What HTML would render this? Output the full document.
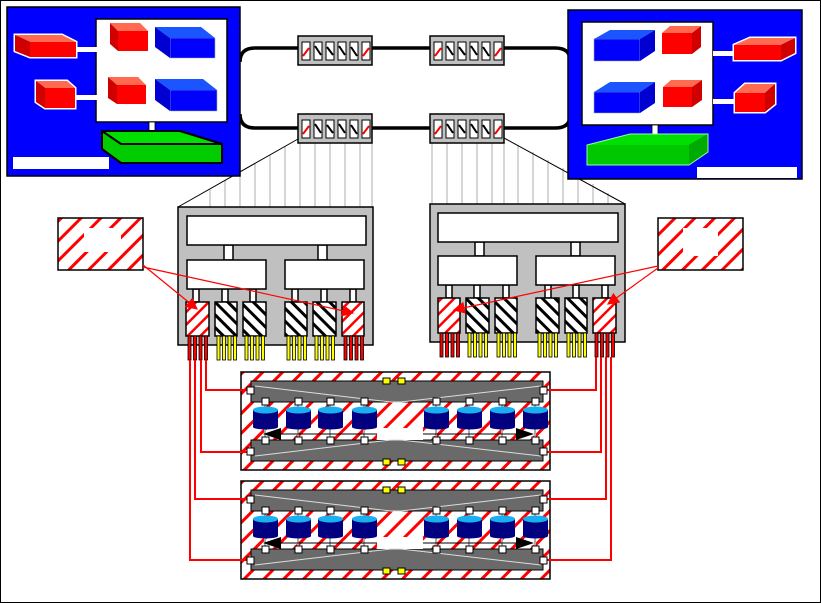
<!DOCTYPE html>
<html><head><meta charset="utf-8"><style>html,body{margin:0;padding:0;background:#fff}svg{display:block}</style></head>
<body>
<svg width="821" height="603" viewBox="0 0 821 603" xmlns="http://www.w3.org/2000/svg">
<defs>
<pattern id="rh" patternUnits="userSpaceOnUse" width="14" height="14" patternTransform="rotate(45)">
<rect width="14" height="14" fill="#fff"/><rect x="0" y="0" width="3" height="14" fill="#f00"/></pattern>
<pattern id="bh" patternUnits="userSpaceOnUse" width="9" height="9" patternTransform="rotate(-45)">
<rect width="9" height="9" fill="#fff"/><rect x="0" y="0" width="3" height="9" fill="#000"/></pattern>
<pattern id="rh2" patternUnits="userSpaceOnUse" width="9" height="9" patternTransform="rotate(45)">
<rect width="9" height="9" fill="#fff"/><rect x="0" y="0" width="2.5" height="9" fill="#f00"/></pattern>
<g id="sw">
<rect x="0" y="0" width="74" height="29" fill="#c0c0c0" stroke="#000" stroke-width="1.5"/>
<g stroke="#000" stroke-width="1" fill="#fff">
<rect x="4" y="6" width="8" height="18"/><rect x="16" y="6" width="8" height="18"/><rect x="28" y="6" width="8" height="18"/>
<rect x="40" y="6" width="8" height="18"/><rect x="52" y="6" width="8" height="18"/><rect x="64" y="6" width="8" height="18"/></g>
<g stroke-width="2"><line x1="5" y1="20" x2="11" y2="12" stroke="#f00"/><line x1="17" y1="10" x2="23" y2="19" stroke="#000"/><line x1="29" y1="11" x2="35" y2="19" stroke="#000"/><line x1="41" y1="10" x2="47" y2="19" stroke="#000"/><line x1="53" y1="11" x2="59" y2="20" stroke="#000"/><line x1="65" y1="20" x2="71" y2="12" stroke="#f00"/></g>
</g>
<g id="cyl">
<line x1="12" y1="-8" x2="12" y2="30" stroke="#aaa" stroke-width="2"/>
<rect x="0" y="3" width="25" height="17" fill="#000080"/>
<ellipse cx="12.5" cy="20" rx="12.5" ry="2.5" fill="#000080"/>
<ellipse cx="12.5" cy="3" rx="12.5" ry="3.5" fill="#1ab0f0"/>
</g>
<g id="st">
<rect x="0" y="0" width="309" height="98" fill="url(#rh)" stroke="#000" stroke-width="1.5"/>
<rect x="10" y="9" width="292" height="21" fill="#6a6a6a" stroke="#000"/>
<rect x="10" y="68" width="292" height="21" fill="#6a6a6a" stroke="#000"/>
<rect x="136" y="56" width="46" height="12" fill="#fff"/>
<polyline points="14,14 150,30 160,30 300,14" fill="none" stroke="#ddd" stroke-width="1"/>
<polyline points="14,84 150,68 160,68 300,84" fill="none" stroke="#ddd" stroke-width="1"/>
<use href="#cyl" x="12" y="35"/><use href="#cyl" x="45" y="35"/><use href="#cyl" x="77" y="35"/><use href="#cyl" x="111" y="35"/>
<use href="#cyl" x="183" y="35"/><use href="#cyl" x="216" y="35"/><use href="#cyl" x="249" y="35"/><use href="#cyl" x="282" y="35"/>
<line x1="40" y1="62" x2="136" y2="62" stroke="#000"/><line x1="182" y1="62" x2="275" y2="62" stroke="#000"/>
<polygon points="22,62 40,56 40,68" fill="#000"/><polygon points="293,62 275,56 275,68" fill="#000"/>
<g fill="#fff" stroke="#000" stroke-width="1">
<rect x="6" y="15" width="7" height="7"/><rect x="299" y="15" width="7" height="7"/>
<rect x="6" y="76" width="7" height="7"/><rect x="299" y="76" width="7" height="7"/>
<rect x="21" y="26" width="7" height="7"/><rect x="54" y="26" width="7" height="7"/><rect x="86" y="26" width="7" height="7"/><rect x="120" y="26" width="7" height="7"/>
<rect x="192" y="26" width="7" height="7"/><rect x="225" y="26" width="7" height="7"/><rect x="258" y="26" width="7" height="7"/><rect x="291" y="26" width="7" height="7"/>
<rect x="21" y="65" width="7" height="7"/><rect x="54" y="65" width="7" height="7"/><rect x="86" y="65" width="7" height="7"/><rect x="120" y="65" width="7" height="7"/>
<rect x="192" y="65" width="7" height="7"/><rect x="225" y="65" width="7" height="7"/><rect x="258" y="65" width="7" height="7"/><rect x="291" y="65" width="7" height="7"/>
</g>
<g fill="#ff0" stroke="#000" stroke-width="1">
<rect x="142" y="6" width="7" height="6"/><rect x="157" y="6" width="7" height="6"/>
<rect x="142" y="87" width="7" height="6"/><rect x="157" y="87" width="7" height="6"/></g>
</g>
<g id="pinsR"><g fill="#f00" stroke="#000" stroke-width="0.8"><rect x="0" y="0" width="3" height="24"/><rect x="5.5" y="0" width="3" height="24"/><rect x="11" y="0" width="3" height="24"/><rect x="16.5" y="0" width="3" height="24"/></g></g>
<g id="pinsY"><g fill="#ff0" stroke="#000" stroke-width="0.8"><rect x="0" y="0" width="3" height="24"/><rect x="5.5" y="0" width="3" height="24"/><rect x="11" y="0" width="3" height="24"/><rect x="16.5" y="0" width="3" height="24"/></g></g>
<marker id="ar" viewBox="0 0 10 10" refX="9" refY="5" markerWidth="18" markerHeight="12" markerUnits="userSpaceOnUse" orient="auto"><path d="M0,0 L10,5 L0,10 z" fill="#f00"/></marker>
</defs>

<rect x="0.5" y="0.5" width="820" height="602" fill="#fff" stroke="#000"/>

<!-- loop -->
<path d="M255,48 H555 Q570,48 570,60 M255,128 H555 Q570,128 570,116" fill="none" stroke="#000" stroke-width="3.5"/>
<path d="M255,48 Q240,48 240,62 M255,128 Q240,128 240,114" fill="none" stroke="#000" stroke-width="3.5"/>

<!-- fans -->
<g stroke="#c8c8c8" stroke-width="1.5">
<line x1="210" y1="190" x2="210" y2="207"/><line x1="225" y1="180" x2="225" y2="207"/><line x1="240" y1="172" x2="240" y2="207"/><line x1="255" y1="163" x2="255" y2="207"/><line x1="270" y1="155" x2="270" y2="207"/><line x1="285" y1="146" x2="285" y2="207"/>
<line x1="300" y1="143" x2="300" y2="207"/><line x1="315" y1="143" x2="315" y2="207"/><line x1="330" y1="143" x2="330" y2="207"/><line x1="345" y1="143" x2="345" y2="207"/><line x1="360" y1="143" x2="360" y2="207"/><line x1="372" y1="143" x2="372" y2="207"/>
<line x1="432" y1="143" x2="432" y2="204"/><line x1="447" y1="143" x2="447" y2="204"/><line x1="462" y1="143" x2="462" y2="204"/><line x1="477" y1="143" x2="477" y2="204"/><line x1="492" y1="143" x2="492" y2="204"/><line x1="504" y1="143" x2="504" y2="204"/>
<line x1="518" y1="145" x2="518" y2="204"/><line x1="533" y1="152" x2="533" y2="204"/><line x1="548" y1="160" x2="548" y2="204"/><line x1="563" y1="168" x2="563" y2="204"/><line x1="578" y1="176" x2="578" y2="204"/><line x1="593" y1="184" x2="593" y2="204"/><line x1="608" y1="193" x2="608" y2="204"/>
</g>
<line x1="298" y1="139" x2="178" y2="207" stroke="#000"/>
<line x1="504" y1="138" x2="625" y2="204" stroke="#000"/>

<!-- switches -->
<use href="#sw" x="298" y="36"/><use href="#sw" x="430" y="36"/>
<use href="#sw" x="298" y="114"/><use href="#sw" x="430" y="114"/>

<!-- left blue host -->
<rect x="7" y="7" width="233" height="169" fill="#0000ff" stroke="#000" stroke-width="1.5"/>
<rect x="96" y="19" width="131" height="103" fill="#fff" stroke="#000" stroke-width="1.5"/>
<rect x="75" y="47" width="22" height="5" fill="#fff"/><rect x="75" y="95" width="22" height="5" fill="#fff"/>
<rect x="149" y="122" width="6" height="14" fill="#fff" stroke="#000" stroke-width="0.8"/>
<!-- outer red boxes -->
<polygon points="15,35 62,35 76,42 76,57 30,57 15,51" fill="none" stroke="#fff" stroke-width="3"/>
<polygon points="30,42 76,42 76,57 30,57" fill="#f00"/><polygon points="15,35 62,35 76,42 30,42" fill="#ff6a50"/><polygon points="15,35 30,42 30,57 15,51" fill="#d00000"/>
<polygon points="36,81 67,81 75,88 75,108 45,108 36,102" fill="none" stroke="#fff" stroke-width="3"/>
<polygon points="45,88 75,88 75,108 45,108" fill="#f00"/><polygon points="36,81 67,81 75,88 45,88" fill="#ff6a50"/><polygon points="36,81 45,88 45,108 36,102" fill="#d00000"/>
<!-- inner -->
<polygon points="118,31 148,31 148,51 118,51" fill="#f00"/><polygon points="110,23 140,23 148,31 118,31" fill="#ff6a50"/><polygon points="110,23 118,31 118,51 110,44" fill="#d00000"/>
<polygon points="117,85 146,85 146,104 117,104" fill="#f00"/><polygon points="108,77 138,77 146,85 117,85" fill="#ff6a50"/><polygon points="108,77 117,85 117,104 108,98" fill="#d00000"/>
<polygon points="170,38 215,38 215,58 170,58" fill="#0000ff" stroke="#9ab" stroke-width="0.6"/><polygon points="155,27 201,27 215,38 170,38" fill="#1a55ff"/><polygon points="155,27 170,38 170,58 155,47" fill="#0000d0"/>
<polygon points="170,90 217,90 217,111 170,111" fill="#0000ff" stroke="#9ab" stroke-width="0.6"/><polygon points="155,79 203,79 217,90 170,90" fill="#1a55ff"/><polygon points="155,79 170,90 170,111 155,100" fill="#0000d0"/>
<polygon points="102,131 180,131 222,144 222,163 121,163 102,149" fill="#00cc00" stroke="#000" stroke-width="2"/>
<polygon points="102,131 180,131 222,144 121,144" fill="#00e000"/>
<polygon points="102,131 180,131 222,144 222,163 121,163 102,149" fill="none" stroke="#000" stroke-width="2"/>
<polyline points="102,131 121,144 222,144 M121,144 121,163" fill="none" stroke="#000" stroke-width="2"/>
<rect x="13" y="157" width="96" height="12" fill="#fff"/>

<!-- right blue host -->
<rect x="568" y="10" width="234" height="169" fill="#0000ff" stroke="#000" stroke-width="1.5"/>
<rect x="582" y="22" width="131" height="103" fill="#fff" stroke="#000" stroke-width="1.5"/>
<rect x="713" y="51" width="22" height="5" fill="#fff"/><rect x="713" y="99" width="22" height="5" fill="#fff"/>
<rect x="652" y="125" width="6" height="14" fill="#fff" stroke="#000" stroke-width="0.8"/>
<polygon points="594,39 640,39 640,61 594,61" fill="#0000ff" stroke="#9ab" stroke-width="0.6"/><polygon points="594,39 610,30 655,30 640,39" fill="#1a55ff"/><polygon points="640,39 655,30 655,51 640,61" fill="#0000d0"/>
<polygon points="594,92 640,92 640,113 594,113" fill="#0000ff" stroke="#9ab" stroke-width="0.6"/><polygon points="594,92 610,82 655,82 640,92" fill="#1a55ff"/><polygon points="640,92 655,82 655,103 640,113" fill="#0000d0"/>
<polygon points="662,33 692,33 692,54 662,54" fill="#f00"/><polygon points="662,33 670,26 701,26 692,33" fill="#ff6a50"/><polygon points="692,33 701,26 701,47 692,54" fill="#d00000"/>
<polygon points="663,87 692,87 692,107 663,107" fill="#f00"/><polygon points="663,87 671,80 702,80 692,87" fill="#ff6a50"/><polygon points="692,87 702,80 702,100 692,107" fill="#d00000"/>
<polygon points="734,45 750,38 795,38 795,53 781,60 734,60" fill="none" stroke="#fff" stroke-width="3"/>
<polygon points="734,45 781,45 781,60 734,60" fill="#f00"/><polygon points="734,45 750,38 795,38 781,45" fill="#ff6a50"/><polygon points="781,45 795,38 795,53 781,60" fill="#d00000"/>
<polygon points="735,93 745,84 775,84 775,104 765,112 735,112" fill="none" stroke="#fff" stroke-width="3"/>
<polygon points="735,93 765,93 765,112 735,112" fill="#f00"/><polygon points="735,93 745,84 775,84 765,93" fill="#ff6a50"/><polygon points="765,93 775,84 775,104 765,112" fill="#d00000"/>
<polygon points="587,145 689,145 689,165 587,165" fill="#00c800"/><polygon points="587,145 630,134 708,134 689,145" fill="#00e000"/><polygon points="689,145 708,134 708,152 689,165" fill="#00aa00"/>
<polygon points="587,145 630,134 708,134 708,152 689,165 587,165" fill="none" stroke="#9f9" stroke-width="1"/>
<rect x="697" y="167" width="100" height="11" fill="#fff"/>

<!-- left main box -->
<rect x="178" y="207" width="195" height="138" fill="#c0c0c0" stroke="#000" stroke-width="1.5"/>
<g fill="#fff" stroke="#000" stroke-width="1.5">
<rect x="224" y="245" width="9" height="15"/><rect x="318" y="245" width="9" height="15"/>
<rect x="193" y="289" width="6" height="13"/><rect x="222" y="289" width="6" height="13"/><rect x="250" y="289" width="6" height="13"/>
<rect x="292" y="289" width="6" height="13"/><rect x="321" y="289" width="6" height="13"/><rect x="350" y="289" width="6" height="13"/>
<rect x="187" y="216" width="179" height="29"/>
<rect x="187" y="260" width="79" height="29"/><rect x="285" y="260" width="79" height="29"/></g>
<g stroke="#000" stroke-width="1.5">
<rect x="186" y="302" width="23" height="34" fill="url(#rh2)"/><rect x="215" y="302" width="22" height="34" fill="url(#bh)"/><rect x="243" y="302" width="23" height="34" fill="url(#bh)"/>
<rect x="285" y="302" width="22" height="34" fill="url(#bh)"/><rect x="313" y="302" width="23" height="34" fill="url(#bh)"/><rect x="342" y="302" width="22" height="34" fill="url(#rh2)"/></g>
<use href="#pinsR" x="188" y="336"/><use href="#pinsY" x="217" y="336"/><use href="#pinsY" x="245" y="336"/>
<use href="#pinsY" x="287" y="336"/><use href="#pinsY" x="315" y="336"/><use href="#pinsR" x="344" y="336"/>

<!-- right main box -->
<rect x="430" y="204" width="195" height="138" fill="#c0c0c0" stroke="#000" stroke-width="1.5"/>
<g fill="#fff" stroke="#000" stroke-width="1.5">
<rect x="475" y="242" width="9" height="14"/><rect x="571" y="242" width="9" height="14"/>
<rect x="446" y="285" width="6" height="13"/><rect x="474" y="285" width="6" height="13"/><rect x="503" y="285" width="6" height="13"/>
<rect x="545" y="285" width="6" height="13"/><rect x="573" y="285" width="6" height="13"/><rect x="602" y="285" width="6" height="13"/>
<rect x="438" y="213" width="180" height="29"/>
<rect x="438" y="256" width="79" height="29"/><rect x="536" y="256" width="79" height="29"/></g>
<g stroke="#000" stroke-width="1.5">
<rect x="438" y="298" width="22" height="35" fill="url(#rh2)"/><rect x="466" y="298" width="23" height="35" fill="url(#bh)"/><rect x="495" y="298" width="22" height="35" fill="url(#bh)"/>
<rect x="536" y="298" width="23" height="35" fill="url(#bh)"/><rect x="565" y="298" width="22" height="35" fill="url(#bh)"/><rect x="593" y="298" width="23" height="35" fill="url(#rh2)"/></g>
<use href="#pinsR" x="440" y="333"/><use href="#pinsY" x="468" y="333"/><use href="#pinsY" x="497" y="333"/>
<use href="#pinsY" x="538" y="333"/><use href="#pinsY" x="567" y="333"/><use href="#pinsR" x="595" y="333"/>

<!-- notes -->
<rect x="58" y="218" width="85" height="52" fill="url(#rh)" stroke="#000" stroke-width="1.5"/>
<rect x="84" y="228" width="37" height="24" fill="#fff"/>
<rect x="658" y="218" width="85" height="52" fill="url(#rh)" stroke="#000" stroke-width="1.5"/>
<rect x="683" y="228" width="35" height="28" fill="#fff"/>
<g stroke="#f00" stroke-width="1.2" fill="none">
<line x1="143" y1="265" x2="197" y2="309" marker-end="url(#ar)"/>
<line x1="143" y1="267" x2="353" y2="313" marker-end="url(#ar)"/>
<line x1="658" y1="266" x2="454" y2="310" marker-end="url(#ar)"/>
<line x1="658" y1="268" x2="608" y2="304" marker-end="url(#ar)"/>
</g>

<!-- storage -->
<use href="#st" x="241" y="372"/>
<use href="#st" x="241" y="481"/>

<!-- red wires -->
<g stroke="#f00" stroke-width="2" fill="none">
<polyline points="206,360 206,390 252,390"/>
<polyline points="201,360 201,452 252,452"/>
<polyline points="195,360 195,499 252,499"/>
<polyline points="190,360 190,560 252,560"/>
<polyline points="596,357 596,390 545,390"/>
<polyline points="601,357 601,452 545,452"/>
<polyline points="606,357 606,499 545,499"/>
<polyline points="611,357 611,560 545,560"/>
</g>
<g fill="#fff" stroke="#000" stroke-width="1">
<rect x="247" y="387" width="7" height="7"/><rect x="540" y="387" width="7" height="7"/>
<rect x="247" y="448" width="7" height="7"/><rect x="540" y="448" width="7" height="7"/>
<rect x="247" y="496" width="7" height="7"/><rect x="540" y="496" width="7" height="7"/>
<rect x="247" y="557" width="7" height="7"/><rect x="540" y="557" width="7" height="7"/>
</g>
</svg>
</body></html>
